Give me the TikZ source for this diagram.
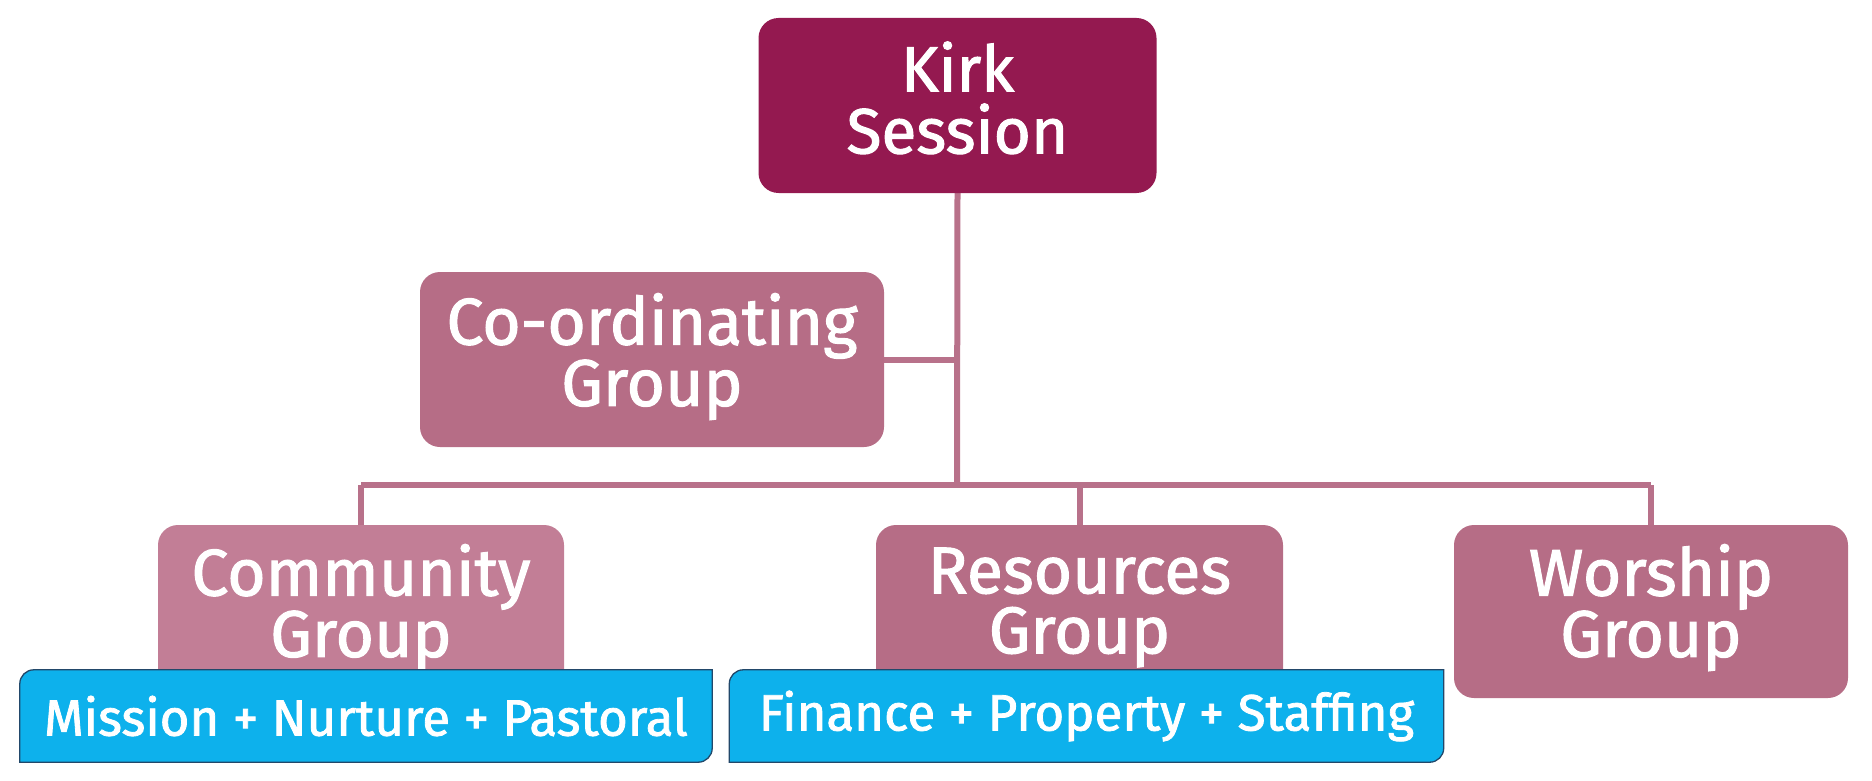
\documentclass[tikz,border=0pt]{standalone}
\usepackage{fontspec}
\setmainfont{Fira Sans}[BoldFont={Fira Sans}, BoldFeatures={FakeBold=1.6}]
\usetikzlibrary{calc}
\definecolor{kirkc}{HTML}{941950}
\definecolor{mauve}{HTML}{B66D86}
\definecolor{mauvel}{HTML}{C27E96}
\definecolor{linec}{HTML}{B8718A}
\definecolor{bluec}{HTML}{0DB1EC}
\definecolor{blueedge}{HTML}{22486A}
\pgfdeclarelayer{bg}
\pgfdeclarelayer{mid}
\pgfdeclarelayer{front}
\pgfsetlayers{bg,main,mid,front}
\tikzset{
  conn/.style={draw=linec, line width=6pt},
  grp/.style={rounded corners=20pt, fill=mauve, text=white, align=center, inner sep=0pt,
    font=\fontsize{66}{60}\selectfont\bfseries},
  subtxt/.style={text=white, inner sep=0pt, font=\fontsize{51}{50}\selectfont\bfseries},
  bluebox/.style={fill=bluec, draw=blueedge, line width=1.3pt}
}
\begin{document}
\begin{tikzpicture}[x=1pt,y=1pt]
\useasboundingbox (0,0) rectangle (1872,-781);
% boxes
\node[grp, fill=kirkc, minimum width=398pt, minimum height=175pt, font=\fontsize{64}{62}\selectfont\bfseries] (kirk) at (957.5,-105.5) {Kirk\\Session\rule[-16pt]{0pt}{0pt}};
\node[grp, minimum width=464pt, minimum height=175pt] (coord) at (652,-359.5) {Co-ordinating\\Group\rule[-20pt]{0pt}{0pt}};
\node[grp, fill=mauvel, minimum width=406pt, minimum height=173pt] (comm) at (361,-611.5) {Community\\Group\rule[-22pt]{0pt}{0pt}};
\node[grp, minimum width=407pt, minimum height=173pt] (res) at (1079.5,-611.5) {Resources\\Group\rule[-22pt]{0pt}{0pt}};
\node[grp, minimum width=394pt, minimum height=173pt] (wor) at (1651,-611.5) {Worship\\Group\rule[-22pt]{0pt}{0pt}};
% connectors
\coordinate (bus) at (957,-485);
\coordinate (busL) at (comm.north |- bus);
\coordinate (busR) at (wor.north |- bus);
\begin{pgfonlayer}{bg}
\draw[conn] (kirk.south) -- (bus);
\draw[conn] (coord.east) -- (kirk.south |- coord.east);
\draw[conn] (busL) -- (busR);
\draw[conn] (busL) -- (comm.north);
\draw[conn] (res.north |- bus) -- (res.north);
\draw[conn] (busR) -- (wor.north);
\end{pgfonlayer}
% sub boxes
\begin{pgfonlayer}{front}
\node[subtxt, minimum width=692pt, minimum height=92pt] (mis) at (366,-716) {Mission + Nurture + Pastoral};
\node[subtxt, minimum width=714pt, minimum height=92pt] (fin) at (1086.5,-716) {Finance + Property + Staffing};
\end{pgfonlayer}
\begin{pgfonlayer}{mid}
\foreach \b in {mis,fin}{
\draw[bluebox] ([yshift=-14pt]\b.north west) arc[start angle=180,end angle=90,radius=14pt]
  -- (\b.north east) -- ([yshift=14pt]\b.south east) arc[start angle=0,end angle=-90,radius=14pt]
  -- (\b.south west) -- cycle;
}
\end{pgfonlayer}
\end{tikzpicture}
\end{document}
